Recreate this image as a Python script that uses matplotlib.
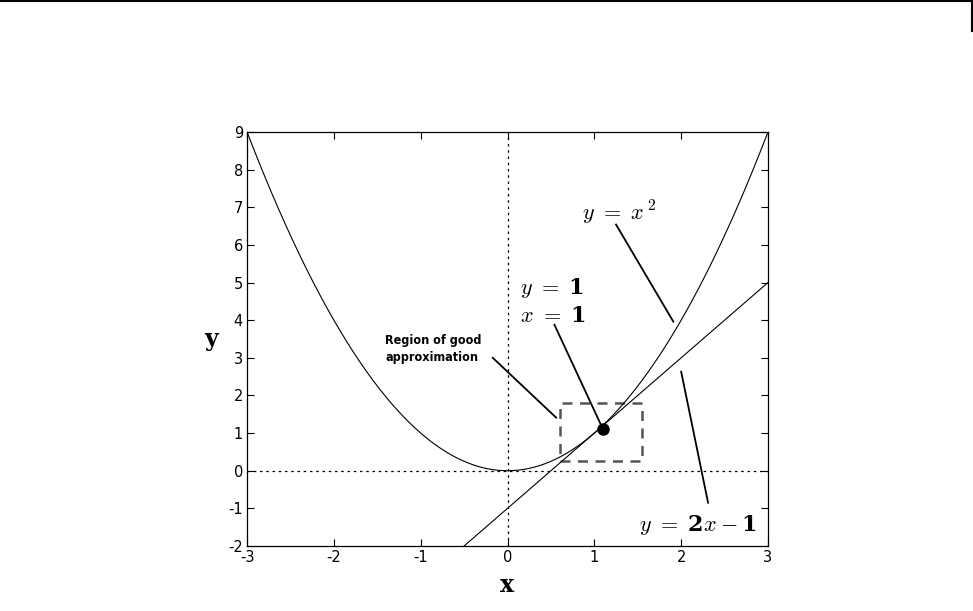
import numpy as np
import matplotlib
matplotlib.use("Agg")
import matplotlib.pyplot as plt
from matplotlib.patches import Rectangle

# data
x_range = [-3, 3]
y_range = [-2, 9]
xticks = [-3, -2, -1, 0, 1, 2, 3]
yticks = [-2, -1, 0, 1, 2, 3, 4, 5, 6, 7, 8, 9]
tangent_pt = (1.1, 1.1)
region_box = (0.6, 0.25, 1.55, 1.8)  # x0, y0, x1, y1

plt.rcParams['mathtext.fontset'] = 'custom'
plt.rcParams['mathtext.rm'] = 'cmr10'
plt.rcParams['mathtext.it'] = 'cmmi10'
plt.rcParams['mathtext.bf'] = 'DejaVu Serif:bold'
plt.rcParams['mathtext.fallback'] = 'cm'
plt.rcParams['axes.unicode_minus'] = False

fig = plt.figure(figsize=(9.73, 6.11), dpi=100)
ax = fig.add_axes([0.2539, 0.1064, 0.5354, 0.6776])

xs = np.linspace(x_range[0], x_range[1], 400)
ax.plot(xs, xs**2, color='black', lw=0.8)
ax.plot(xs, 2*xs - 1, color='black', lw=0.8)
ax.axvline(0, color='black', lw=0.9, ls=(0, (2, 3)))
ax.axhline(0, color='black', lw=0.9, ls=(0, (2, 3)))

ax.plot([tangent_pt[0]], [tangent_pt[1]], 'o', color='black', ms=8)
x0, y0, x1, y1 = region_box
ax.add_patch(Rectangle((x0, y0), x1 - x0, y1 - y0, fill=False,
                       edgecolor='#555555', lw=1.8, ls=(0, (4, 3))))

# pointer lines
lw_p = 1.3
ax.plot([1.25, 1.91], [6.54, 3.96], color='black', lw=lw_p)
ax.plot([0.54, 1.07], [3.88, 1.25], color='black', lw=lw_p)
ax.plot([-0.17, 0.56], [3.0, 1.41], color='black', lw=lw_p)
ax.plot([2.0, 2.31], [2.63, -0.85], color='black', lw=lw_p)

fs = 16
ax.text(0.86, 6.85, r'$y\ =\ x^{\,2}$', fontsize=fs, ha='left', va='center')
ax.text(0.14, 4.85, r'$y\ =\ \mathbf{1}$', fontsize=fs, ha='left', va='center')
ax.text(0.14, 4.12, r'$x\ =\ \mathbf{1}$', fontsize=fs, ha='left', va='center')
ax.text(1.52, -1.43, r'$y\ =\ \mathbf{2}x-\mathbf{1}$', fontsize=fs, ha='left', va='center')
ax.text(-1.41, 3.24, 'Region of good\napproximation', fontsize=9, ha='left', va='center',
        family='DejaVu Sans', fontstretch='condensed', fontweight='bold',
        linespacing=1.35)

ax.set_xlim(*x_range)
ax.set_ylim(*y_range)
ax.set_xticks(xticks)
ax.set_yticks(yticks)
ax.tick_params(direction='in', length=5, width=0.8, labelsize=10.5,
               top=True, right=True, pad=3)
for s in ax.spines.values():
    s.set_linewidth(0.9)

ax.set_xlabel('x', fontsize=17, fontweight='bold', family='DejaVu Serif', labelpad=6)
ax.set_ylabel('y', fontsize=17, fontweight='bold', family='DejaVu Serif', rotation=0,
              labelpad=12, va='center')

# page header rule
fig.add_artist(plt.Line2D([0, 972/973], [1 - 1/611, 1 - 1/611], color='black', lw=1.5,
                          transform=fig.transFigure))
fig.add_artist(plt.Line2D([972/973, 972/973], [1 - 1/611, 1 - 31/611], color='black', lw=1.5,
                          transform=fig.transFigure))

fig.savefig('out.png', dpi=100)
